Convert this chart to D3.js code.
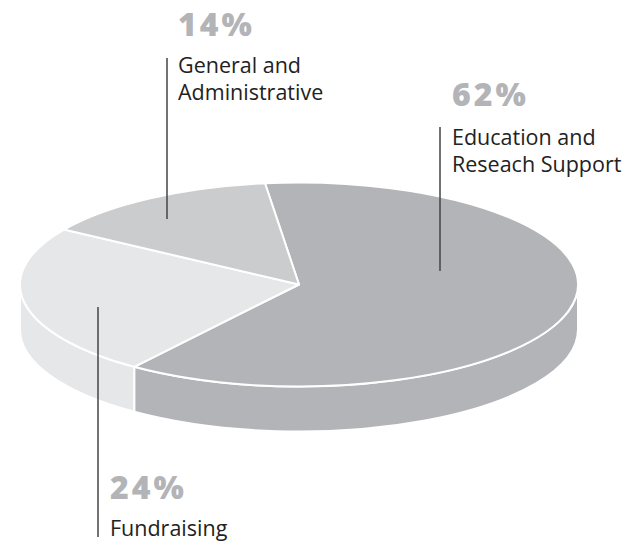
<!DOCTYPE html>
<html>
<head>
<meta charset="utf-8">
<script src="https://cdn.jsdelivr.net/npm/d3@7"></script>
<style>
  body { margin: 0; background: #fff; }
  svg { display: block; }
</style>
</head>
<body>
<div id="vis"></div>
<script>
// data
const categories = ["Education and Reseach Support", "Fundraising", "General and Administrative"]
const values = [62, 24, 14]
const pctLabels = ["62%", "24%", "14%"]
const nameLines = [["Education and", "Reseach Support"], ["Fundraising"], ["General and", "Administrative"]]
const colors = ["#b3b4b7", "#e6e7e8", "#cbcccd"]

const width = 638
const height = 545

// pie geometry (ellipse = tilted disc)
const cx = 299, cy = 284.5, rx = 279, ry = 102, depth = 45

// label layout: leader line x, top, bottom; text x; baseline of percent; baseline of first name line
const labelLayout = [
  { lx: 440, y1: 127, y2: 271, tx: 452, pctY: 106, nameY: 145 },
  { lx: 98, y1: 307, y2: 537, tx: 110, pctY: 499, nameY: 536 },
  { lx: 167, y1: 58, y2: 219, tx: 178, pctY: 36, nameY: 73 }
]
const lineGap = 27

const svg = d3.select("#vis")
  .append("svg")
  .attr("width", width)
  .attr("height", height)

const pie = d3.pie()
  .sort(null)
  .startAngle(-7 * Math.PI / 180)
  .endAngle(-7 * Math.PI / 180 + 2 * Math.PI)

const arcs = pie(values)

function pt(a, dy) {
  return [cx + rx * Math.sin(a), cy - ry * Math.cos(a) + (dy || 0)]
}

function topPath(d) {
  const p0 = pt(d.startAngle), p1 = pt(d.endAngle)
  const large = (d.endAngle - d.startAngle) > Math.PI ? 1 : 0
  return "M" + cx + "," + cy + "L" + p0 + "A" + rx + "," + ry + " 0 " + large + " 1 " + p1 + "Z"
}

function sidePath(d) {
  // only the front half of the disc wall is visible
  const s0 = Math.max(d.startAngle, Math.PI / 2)
  const s1 = Math.min(d.endAngle, 3 * Math.PI / 2)
  if (s1 <= s0) return null
  const a = pt(s0), b = pt(s1), b2 = pt(s1, depth), a2 = pt(s0, depth)
  return "M" + a + "A" + rx + "," + ry + " 0 0 1 " + b + "L" + b2 +
    "A" + rx + "," + ry + " 0 0 0 " + a2 + "Z"
}

// side walls
svg.append("g")
  .selectAll("path")
  .data(arcs.filter(d => sidePath(d) !== null))
  .enter()
  .append("path")
    .attr("d", sidePath)
    .attr("fill", d => colors[d.index])
    .attr("stroke", "#fff")
    .attr("stroke-width", 2)
    .attr("stroke-linejoin", "round")

// top faces
svg.append("g")
  .selectAll("path")
  .data(arcs)
  .enter()
  .append("path")
    .attr("d", topPath)
    .attr("fill", d => colors[d.index])
    .attr("stroke", "#fff")
    .attr("stroke-width", 2)
    .attr("stroke-linejoin", "round")

// labels
const lab = svg.append("g")
  .selectAll("g")
  .data(categories)
  .enter()
  .append("g")

lab.append("line")
  .attr("x1", (d, i) => labelLayout[i].lx)
  .attr("x2", (d, i) => labelLayout[i].lx)
  .attr("y1", (d, i) => labelLayout[i].y1)
  .attr("y2", (d, i) => labelLayout[i].y2)
  .attr("stroke", "#444")
  .attr("stroke-width", 1.5)

lab.append("text")
  .attr("x", (d, i) => labelLayout[i].tx)
  .attr("y", (d, i) => labelLayout[i].pctY)
  .text((d, i) => pctLabels[i])
  .style("font-family", "'Open Sans', sans-serif")
  .style("font-weight", 800)
  .style("font-size", "32px")
  .style("letter-spacing", "3px")
  .attr("fill", "#b3b4b7")

// one text element per name line
lab.each(function(d, i) {
  const g = d3.select(this)
  nameLines[i].forEach((line, j) => {
    g.append("text")
      .attr("x", labelLayout[i].tx)
      .attr("y", labelLayout[i].nameY + j * lineGap)
      .style("font-family", "'Open Sans', sans-serif")
      .style("font-size", "21.5px")
      .attr("fill", "#222")
      .text(line)
  })
})
</script>
</body>
</html>
